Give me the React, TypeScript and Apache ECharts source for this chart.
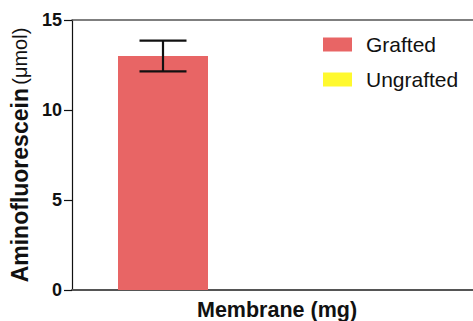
import React, { useEffect, useRef } from "react";
import * as echarts from "echarts";

const categories = ["A", "B"];
const seriesNames = ["Grafted", "Ungrafted"];
const graftedMeans: (number | string)[] = [13.0, "-"];
const graftedSD: number[] = [0.85, 0];
const ungraftedMeans: (number | string)[] = ["-", "-"];
const yTicks = [0, 5, 10, 15];
const colors = ["#E86565", "#FFF92E"];

const FONT = "'Liberation Sans', Arial, sans-serif";

export default function App() {
  const ref = useRef<HTMLDivElement>(null);
  useEffect(() => {
    if (!ref.current) return;
    const chart = echarts.init(ref.current, undefined, { renderer: "svg" });
    const barWidth = 90;
    const errData = graftedMeans
      .map((m, i) => (typeof m === "number" ? [i, m - graftedSD[i], m + graftedSD[i]] : null))
      .filter((d) => d !== null);
    chart.setOption({
      animation: false,
      grid: { left: 72, top: 20, height: 270, width: 544, show: false, outerBoundsMode: "none", containLabel: false },
      legend: {
        orient: "vertical",
        left: 318,
        top: 29,
        itemWidth: 29,
        itemHeight: 14,
        itemGap: 14,
        icon: "rect",
        data: seriesNames,
        textStyle: {
          fontFamily: FONT,
          fontSize: 21,
          color: "#111",
          padding: [0, 0, 0, 9],
        },
      },
      xAxis: [
        {
          type: "category",
          data: categories,
          axisLine: { lineStyle: { color: "#555", width: 2 } },
          axisTick: { show: false },
          axisLabel: { show: false },
        },
        {
          type: "category",
          data: categories,
          position: "top",
          axisLine: { show: true, onZero: false, lineStyle: { color: "#555", width: 1.5 } },
          axisTick: { show: false },
          axisLabel: { show: false },
        },
      ],
      yAxis: {
        type: "value",
        min: yTicks[0],
        max: yTicks[yTicks.length - 1],
        interval: 5,
        name: "{b|Aminofluorescein} {n|(μmol)}",
        nameLocation: "middle",
        nameGap: 38,
        nameTextStyle: {
          rich: {
            b: { fontFamily: FONT, fontSize: 23, fontWeight: "bold", color: "#111" },
            n: { fontFamily: FONT, fontSize: 20, color: "#111" },
          },
        },
        axisLine: { show: true, lineStyle: { color: "#111", width: 1.2 } },
        axisTick: { show: true, length: 8, lineStyle: { color: "#111", width: 1.2 } },
        axisLabel: {
          margin: 10,
          fontFamily: FONT,
          fontSize: 18,
          fontWeight: "bold",
          color: "#111",
        },
        splitLine: { show: false },
      },
      graphic: [
        {
          type: "text",
          left: 197,
          top: 299,
          style: {
            text: "Membrane (mg)",
            font: "bold 21.5px 'Liberation Sans', Arial, sans-serif",
            fill: "#111",
          },
        },
      ],
      series: [
        {
          name: seriesNames[0],
          type: "bar",
          data: graftedMeans,
          barWidth,
          barGap: "0%",
          itemStyle: { color: colors[0] },
        },
        {
          name: seriesNames[1],
          type: "bar",
          data: ungraftedMeans,
          barWidth,
          itemStyle: { color: colors[1] },
        },
        {
          type: "custom",
          data: errData,
          z: 10,
          renderItem: (params: any, api: any) => {
            const idx = api.value(0);
            const lo = api.coord([idx, api.value(1)]);
            const hi = api.coord([idx, api.value(2)]);
            const x = lo[0] - barWidth / 2;
            const half = 23.5;
            const style = { stroke: "#111", lineWidth: 2.2 };
            return {
              type: "group",
              children: [
                { type: "line", shape: { x1: x, y1: lo[1], x2: x, y2: hi[1] }, style },
                { type: "line", shape: { x1: x - half, y1: lo[1], x2: x + half, y2: lo[1] }, style },
                { type: "line", shape: { x1: x - half, y1: hi[1], x2: x + half, y2: hi[1] }, style },
              ],
            };
          },
        },
      ],
    });
    return () => chart.dispose();
  }, []);
  return <div ref={ref} style={{ width: 473, height: 321, position: "absolute", left: 0, top: 0 }} />;
}
